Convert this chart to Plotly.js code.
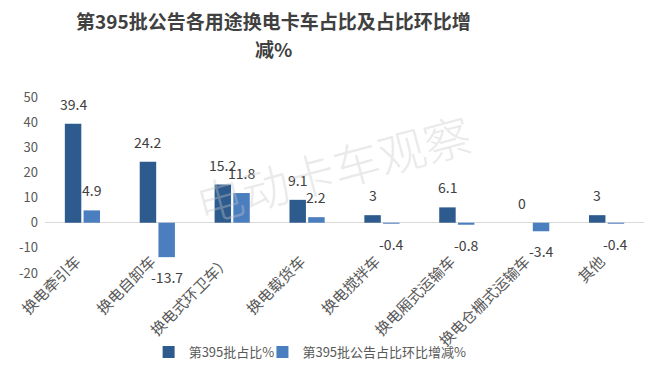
<!DOCTYPE html>
<html>
<head>
<meta charset="utf-8">
<script src="https://cdn.plot.ly/plotly-3.0.1.min.js"></script>
<style>html,body{margin:0;padding:0;background:#fff;}#chart{width:660px;height:376px;}</style>
</head>
<body>
<div id="chart"></div>
<script>
const categories = ["换电牵引车", "换电自卸车", "换电式环卫车）", "换电载货车", "换电搅拌车", "换电厢式运输车", "换电仓栅式运输车", "其他"];
const shareValues = [39.4, 24.2, 15.2, 9.1, 3, 6.1, 0, 3];
const changeValues = [4.9, -13.7, 11.8, 2.2, -0.4, -0.8, -3.4, -0.4];
const seriesNames = ["第395批占比%", "第395批公告占比环比增减%"];
const titleLines = ["第395批公告各用途换电卡车占比及占比环比增", "减%"];
const yTicks = [-20, -10, 0, 10, 20, 30, 40, 50];
const yRange = [-20, 50];

const fontFam = '"Microsoft YaHei", "Noto Sans CJK SC", sans-serif';
const barGap = 0.5;
const slot = (1 - barGap) / 2;

function barTrace(name, vals, color, legendId) {
  return {
    type: 'bar', name: name, x: categories, y: vals,
    marker: {color: color}, legend: legendId,
    cliponaxis: false, hoverinfo: 'none'
  };
}

const traces = [
  barTrace(seriesNames[0], shareValues, '#2e5b8e', 'legend'),
  barTrace(seriesNames[1], changeValues, '#4a7ebf', 'legend2')
];

// value labels, positioned by the axes from the data
const annotations = [];
[shareValues, changeValues].forEach((vals, s) => {
  const off = (s === 0 ? -1 : 1) * slot / 2;
  vals.forEach((v, i) => {
    annotations.push({
      x: i + off, y: v, xref: 'x', yref: 'y', text: String(v),
      showarrow: false, xanchor: 'center',
      yanchor: v < 0 ? 'top' : 'bottom', yshift: v < 0 ? -8 : 8,
      font: {size: 14, color: '#404040', family: fontFam}
    });
  });
});

// title lines
annotations.push({
  text: '<b>' + titleLines[0] + '</b>', xref: 'paper', yref: 'paper',
  x: 0.381, y: 1.4375, xanchor: 'center', yanchor: 'middle', showarrow: false,
  font: {size: 19, color: '#404040', family: fontFam}
});
annotations.push({
  text: '<b>' + titleLines[1] + '</b>', xref: 'paper', yref: 'paper',
  x: 0.381, y: 1.278, xanchor: 'center', yanchor: 'middle', showarrow: false,
  font: {size: 19, color: '#404040', family: fontFam}
});

// watermark
annotations.push({
  text: '电动卡车观察', xref: 'paper', yref: 'paper', x: 0.48, y: 0.6,
  showarrow: false, textangle: -15,
  font: {size: 47, color: 'rgba(200,200,200,0.4)', family: fontFam, weight: 300}
});

const zeroPos = (0 - yRange[0]) / (yRange[1] - yRange[0]);

const legendBase = {
  orientation: 'h', yanchor: 'middle', y: -0.449, xanchor: 'left',
  font: {size: 13, color: '#595959', family: fontFam}, itemwidth: 30,
  bgcolor: 'rgba(0,0,0,0)'
};

const layout = {
  width: 660, height: 376,
  margin: {l: 45, r: 16, t: 97, b: 103, autoexpand: false},
  paper_bgcolor: '#fff', plot_bgcolor: '#fff',
  font: {family: fontFam, color: '#595959'},
  barmode: 'group', bargap: barGap, bargroupgap: 0.12,
  xaxis: {
    tickangle: -45, tickfont: {size: 15, color: '#595959'},
    anchor: 'free', position: zeroPos, ticklabelstandoff: 26, ticklabelshift: -6,
    showline: false, showgrid: false, ticks: '', automargin: false,
    range: [-0.5, categories.length - 0.5]
  },
  yaxis: {
    range: yRange, tickvals: yTicks, ticktext: yTicks.map(String),
    showgrid: false, zeroline: true, zerolinecolor: '#d9d9d9', zerolinewidth: 1,
    tickfont: {size: 13, color: '#595959'}, ticks: '', showline: false, automargin: false,
    ticklabelstandoff: 6
  },
  legend: Object.assign({}, legendBase, {x: 0.173}),
  legend2: Object.assign({}, legendBase, {x: 0.363}),
  annotations: annotations,
  showlegend: true
};

Plotly.newPlot('chart', traces, layout, {staticPlot: true, displayModeBar: false});
</script>
</body>
</html>
